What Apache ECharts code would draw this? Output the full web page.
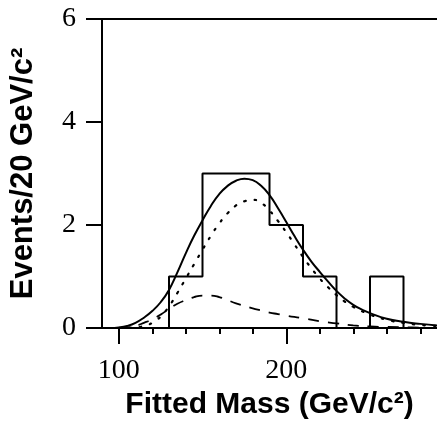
<!DOCTYPE html>
<html>
<head>
<meta charset="utf-8">
<script src="https://cdn.jsdelivr.net/npm/echarts@6/dist/echarts.min.js"></script>
<style>html,body{margin:0;padding:0;background:#fff}#c{width:437px;height:436px}</style>
</head>
<body>
<div id="c"></div>
<script>
// Histogram bins (lower edges, GeV/c^2) and event counts
const binEdges = [130, 150, 170, 190, 210, 230, 250, 270];
const binCounts = [1, 3, 3, 2, 1, 0, 1];

// Total fit (solid)
const totalX = [95,100,105,110,115,120,125,130,135,140,145,150,155,160,165,170,175,180,185,190,195,200,205,210,215,220,225,230,235,240,245,250,260,270,280,290];
const totalY = [0,0.01,0.04,0.1,0.2,0.33,0.5,0.74,1.08,1.45,1.79,2.09,2.37,2.6,2.76,2.86,2.9,2.87,2.76,2.58,2.33,2.06,1.78,1.52,1.29,1.09,0.9,0.72,0.57,0.45,0.36,0.29,0.18,0.12,0.08,0.05];

// Signal (dotted)
const signalX = [100,105,110,115,120,125,130,135,140,145,150,155,160,165,170,175,180,185,190,195,200,205,210,215,220,225,230,235,240,250,260,270,280,290];
const signalY = [0,0.005,0.01,0.04,0.1,0.22,0.42,0.68,0.96,1.24,1.52,1.79,2.03,2.23,2.38,2.46,2.49,2.43,2.28,2.08,1.86,1.62,1.38,1.16,0.96,0.79,0.64,0.51,0.41,0.26,0.16,0.1,0.06,0.04];

// Background (dashed)
const bkgX = [100,105,110,115,120,125,130,135,140,145,150,155,160,165,170,175,180,185,190,195,200,210,220,230,240,250,260,275,290];
const bkgY = [0,0.01,0.04,0.1,0.17,0.26,0.37,0.47,0.54,0.6,0.63,0.63,0.6,0.54,0.48,0.43,0.38,0.34,0.3,0.27,0.24,0.19,0.13,0.09,0.05,0.03,0.02,0.01,0];

const xMajorTicks = [100, 200];
const xMinorTicks = [100,120,140,160,180,200,220,240,260,280];
const yTicks = [0, 2, 4, 6];

function pairs(xs, ys){ return xs.map((x,i)=>[x, ys[i]]); }
const histData = [[binEdges[0], 0]];
for (let i = 0; i < binCounts.length; i++) histData.push([binEdges[i], binCounts[i]]);
histData.push([binEdges[binEdges.length-1], 0]);

const serif = 'Liberation Serif';
const sans = 'Liberation Sans';
const chart = echarts.init(document.getElementById('c'), null, {renderer:'canvas'});
const xBase = {type:'value', min:90, max:290, splitLine:{show:false}};
chart.setOption({
  animation:false,
  backgroundColor:'#fff',
  grid:{left:102, right:0, top:19, bottom:108, show:false},
  xAxis:[
    Object.assign({}, xBase, {
      position:'bottom',
      name:'Fitted Mass (GeV/c²)', nameLocation:'middle', nameGap:57,
      nameTextStyle:{fontFamily:sans, fontWeight:'bold', fontSize:30, color:'#000'},
      axisLine:{show:true, onZero:false, lineStyle:{color:'#000', width:2}},
      axisTick:{show:true, inside:false, length:16, customValues:xMajorTicks, lineStyle:{color:'#000', width:2}},
      axisLabel:{show:true, customValues:xMajorTicks, margin:29, fontFamily:serif, fontSize:28, color:'#000'}
    }),
    Object.assign({}, xBase, {
      position:'bottom',
      axisLine:{show:false},
      axisTick:{show:true, inside:false, length:6, customValues:xMinorTicks, lineStyle:{color:'#000', width:2}},
      axisLabel:{show:false}
    }),
    Object.assign({}, xBase, {
      position:'top',
      axisLine:{show:true, onZero:false, lineStyle:{color:'#000', width:2}},
      axisTick:{show:false},
      axisLabel:{show:false}
    })
  ],
  yAxis:{
    type:'value', min:0, max:6, interval:2,
    name:'Events/20 GeV/c²', nameLocation:'middle', nameGap:63,
    nameTextStyle:{fontFamily:sans, fontWeight:'bold', fontSize:31, color:'#000'},
    axisLine:{show:true, lineStyle:{color:'#000', width:2}},
    axisTick:{show:true, inside:false, length:16, lineStyle:{color:'#000', width:2}},
    axisLabel:{margin:26, fontFamily:serif, fontSize:28, color:'#000', customValues:yTicks},
    splitLine:{show:false}
  },
  series:[
    {type:'line', data:histData, step:'end', symbol:'none', lineStyle:{color:'#000', width:2}, xAxisIndex:0},
    {type:'line', data:pairs(totalX,totalY), smooth:true, symbol:'none', lineStyle:{color:'#000', width:2}, xAxisIndex:0},
    {type:'line', data:pairs(signalX,signalY), smooth:true, symbol:'none', lineStyle:{color:'#000', width:2.2, type:[1.5,9], cap:'round'}, xAxisIndex:0},
    {type:'line', data:pairs(bkgX,bkgY), smooth:true, symbol:'none', lineStyle:{color:'#000', width:1.8, type:[11,9]}, xAxisIndex:0}
  ]
});
</script>
</body>
</html>
